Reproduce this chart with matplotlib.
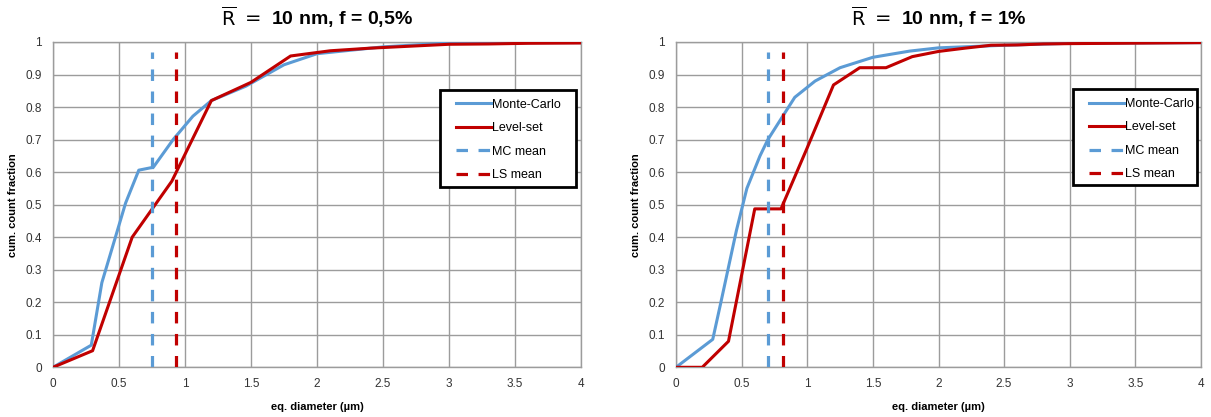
import matplotlib
matplotlib.use("Agg")
import matplotlib.pyplot as plt
from matplotlib.patches import Rectangle
from matplotlib.ticker import FuncFormatter

MC_COLOR = "#5b9bd5"
LS_COLOR = "#c00000"
GRID_COLOR = "#9c9c9c"

# f = 0,5 %
mc_x_05 = [0, 0.29, 0.37, 0.55, 0.65, 0.76, 0.91, 1.06, 1.2, 1.46, 1.75, 2.0, 2.5, 3.0, 3.5, 4.0]
mc_y_05 = [0, 0.068, 0.26, 0.505, 0.606, 0.615, 0.70, 0.772, 0.82, 0.864, 0.930, 0.964, 0.985, 0.997, 0.998, 0.998]
ls_x_05 = [0, 0.3, 0.6, 0.9, 1.2, 1.5, 1.8, 2.1, 2.4, 2.7, 3.0, 3.3, 3.6, 4.0]
ls_y_05 = [0, 0.051, 0.40, 0.572, 0.82, 0.876, 0.957, 0.973, 0.981, 0.987, 0.993, 0.994, 0.996, 0.997]
mc_mean_05 = 0.753
ls_mean_05 = 0.929

# f = 1 %
mc_x_1 = [0, 0.28, 0.34, 0.46, 0.54, 0.59, 0.64, 0.70, 0.905, 1.06, 1.25, 1.5, 1.78, 2.0, 2.5, 3.0, 4.0]
mc_y_1 = [0, 0.086, 0.196, 0.42, 0.55, 0.60, 0.65, 0.70, 0.83, 0.88, 0.921, 0.953, 0.972, 0.982, 0.990, 0.996, 0.998]
ls_x_1 = [0, 0.2, 0.4, 0.6, 0.8, 1.0, 1.2, 1.4, 1.6, 1.8, 2.0, 2.2, 2.4, 2.6, 2.8, 3.0, 4.0]
ls_y_1 = [0, 0, 0.08, 0.487, 0.487, 0.675, 0.868, 0.921, 0.921, 0.955, 0.971, 0.981, 0.99, 0.991, 0.994, 0.995, 0.998]
mc_mean_1 = 0.698
ls_mean_1 = 0.817

MEAN_TOP = 0.97
x_ticks = [0, 0.5, 1, 1.5, 2, 2.5, 3, 3.5, 4]
y_ticks = [0, 0.1, 0.2, 0.3, 0.4, 0.5, 0.6, 0.7, 0.8, 0.9, 1]

plt.rcParams["font.family"] = ["Liberation Sans", "DejaVu Sans"]
plt.rcParams["mathtext.fontset"] = "dejavusans"


def panel(ax, mc_x, mc_y, ls_x, ls_y, mc_mean, ls_mean, title, legend_box):
    ax.plot(mc_x, mc_y, color=MC_COLOR, lw=2.2, label="Monte-Carlo", zorder=3)
    ax.plot(ls_x, ls_y, color=LS_COLOR, lw=2.2, label="Level-set", zorder=3)
    ax.plot([mc_mean, mc_mean], [0, MEAN_TOP], color=MC_COLOR, lw=2.3,
            dashes=(3.6, 3.3), label="MC mean", zorder=4)
    ax.plot([ls_mean, ls_mean], [0, MEAN_TOP], color=LS_COLOR, lw=2.3,
            dashes=(3.6, 3.3), label="LS mean", zorder=4)

    ax.set_xlim(0, 4)
    ax.set_ylim(0, 1)
    ax.set_xticks(x_ticks)
    ax.set_yticks(y_ticks)
    fmt = FuncFormatter(lambda v, p: f"{v:g}")
    ax.xaxis.set_major_formatter(fmt)
    ax.yaxis.set_major_formatter(fmt)
    ax.tick_params(length=0, labelsize=8.5, labelcolor="#333333", pad=8)
    ax.grid(True, color=GRID_COLOR, lw=1.0, zorder=0)
    ax.set_axisbelow(True)
    for s in ax.spines.values():
        s.set_color(GRID_COLOR)
        s.set_linewidth(1.0)

    ax.set_xlabel("eq. diameter (µm)", fontsize=8, fontweight="bold", labelpad=8)
    ax.set_ylabel("cum. count fraction", fontsize=8, fontweight="bold", labelpad=5)
    ax.set_title(title, fontsize=14, fontweight="bold", pad=12)

    # legend: black framed box, entries left-aligned inside it
    x0, y0, w, h = legend_box
    ax.add_patch(Rectangle((x0, y0), w, h, transform=ax.transAxes, fill=True,
                           facecolor="white", edgecolor="black", lw=2.0, zorder=5,
                           clip_on=False))
    leg = ax.legend(loc="upper left", bbox_to_anchor=(x0 + 0.03, y0 + h - 0.026),
                    frameon=False, fontsize=9, handlelength=2.8, handletextpad=0.1,
                    labelspacing=0.92, borderpad=0, borderaxespad=0)
    leg.set_zorder(6)


fig = plt.figure(figsize=(12.11, 4.17), dpi=100)
ax1 = fig.add_axes([53 / 1211, 49.7 / 417, 528 / 1211, 325.3 / 417])
ax2 = fig.add_axes([676 / 1211, 49.7 / 417, 525 / 1211, 325.3 / 417])

panel(ax1, mc_x_05, mc_y_05, ls_x_05, ls_y_05, mc_mean_05, ls_mean_05,
      r"$\overline{\mathrm{R}}\ =\ $10 nm, f = 0,5%", (0.733, 0.554, 0.258, 0.298))
panel(ax2, mc_x_1, mc_y_1, ls_x_1, ls_y_1, mc_mean_1, ls_mean_1,
      r"$\overline{\mathrm{R}}\ =\ $10 nm, f = 1%", (0.756, 0.56, 0.236, 0.294))

fig.savefig("out.png", dpi=100)
